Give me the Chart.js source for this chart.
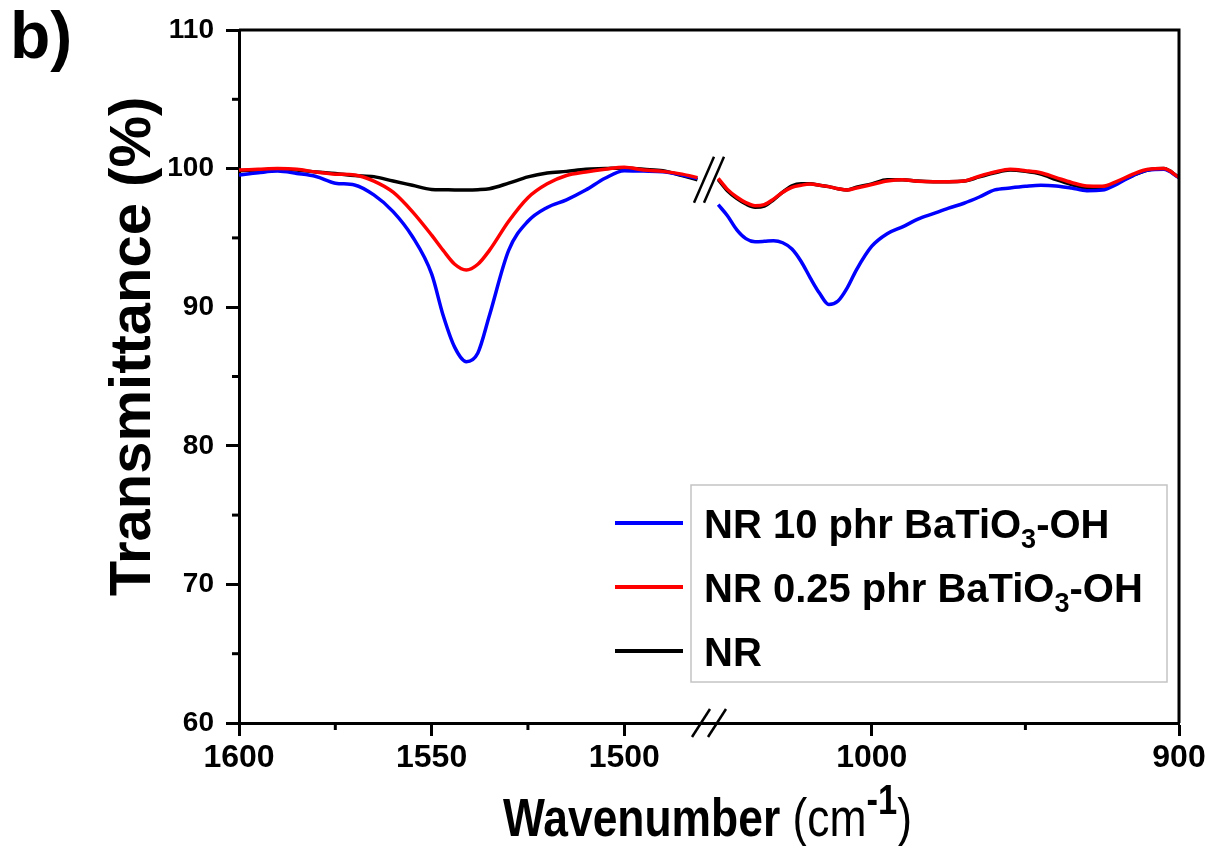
<!DOCTYPE html>
<html>
<head>
<meta charset="utf-8">
<script src="https://cdn.jsdelivr.net/npm/chart.js@4.4.1/dist/chart.umd.min.js"></script>
<style>
  body { margin: 0; background: #fff; }
  #wrap { width: 1211px; height: 846px; }
</style>
</head>
<body>
<div id="wrap"><canvas id="ftir" width="1211" height="846"></canvas></div>
<script>
// 横軸は 1600-1478 と 1053-900 の二区間 (途中で軸を切る)
const xMax = 1600, breakLeft = 1478, breakRight = 1053, xMin = 900;
const xTickValues = [1600, 1550, 1500, 1000, 900];
const xTickLabels = ['1600', '1550', '1500', '1000', '900'];
const xMinorTicks = [1575, 1525, 950];
const yMinorTicks = [65, 75, 85, 95, 105];

const seriesLabels = ['NR 10 phr BaTiO_3-OH', 'NR 0.25 phr BaTiO_3-OH', 'NR'];
const seriesColors = ['#0000ff', '#ff0000', '#000000'];

// 左区間
const wnLeft = [1600, 1595, 1590, 1585, 1580, 1575, 1570, 1565, 1560, 1555, 1550, 1547, 1544, 1541, 1538, 1535, 1530, 1525, 1520, 1515, 1510, 1505, 1500, 1495, 1490, 1485, 1481];
const blueLeft = [99.54, 99.7, 99.82, 99.65, 99.43, 98.95, 98.82, 98.1, 96.9, 95.1, 92.4, 89.4, 87.1, 86.07, 86.7, 89.4, 94.1, 96.2, 97.2, 97.75, 98.45, 99.3, 99.85, 99.82, 99.78, 99.54, 99.3];
const redLeft = [99.9, 99.95, 100.0, 99.95, 99.75, 99.6, 99.54, 99.1, 98.3, 96.9, 95.2, 94.1, 93.1, 92.68, 93.1, 94.1, 96.2, 97.9, 98.9, 99.5, 99.75, 99.95, 100.1, 99.9, 99.8, 99.6, 99.35];
const blackLeft = [99.85, 99.9, 99.95, 99.9, 99.75, 99.65, 99.5, 99.42, 99.1, 98.8, 98.5, 98.48, 98.46, 98.46, 98.48, 98.55, 98.95, 99.4, 99.68, 99.8, 99.95, 100.0, 100.05, 99.95, 99.85, 99.5, 99.2];

// 右区間
const wnRight = [1050, 1047, 1044, 1041, 1038, 1035, 1032, 1029, 1026, 1023, 1020, 1017, 1014, 1011, 1008, 1005, 1000, 995, 990, 985, 980, 975, 970, 965, 960, 955, 950, 945, 940, 935, 930, 925, 920, 915, 910, 905, 900];
const blueRight = [97.4, 96.6, 95.6, 94.95, 94.72, 94.75, 94.8, 94.65, 94.2, 93.3, 92.1, 91.0, 90.2, 90.45, 91.4, 92.7, 94.4, 95.3, 95.8, 96.35, 96.75, 97.15, 97.5, 97.95, 98.46, 98.6, 98.72, 98.8, 98.75, 98.6, 98.41, 98.45, 98.9, 99.5, 99.9, 99.95, 99.35];
const redRight = [99.3, 98.5, 97.95, 97.55, 97.32, 97.4, 97.8, 98.3, 98.65, 98.8, 98.88, 98.8, 98.7, 98.55, 98.46, 98.6, 98.85, 99.1, 99.2, 99.08, 99.06, 99.06, 99.1, 99.45, 99.75, 99.95, 99.85, 99.7, 99.35, 99.0, 98.74, 98.72, 99.1, 99.6, 99.95, 100.0, 99.37];
const blackRight = [99.2, 98.4, 97.85, 97.45, 97.22, 97.3, 97.75, 98.3, 98.75, 98.9, 98.9, 98.8, 98.7, 98.55, 98.46, 98.65, 98.9, 99.2, 99.2, 99.1, 99.06, 99.06, 99.1, 99.4, 99.7, 99.9, 99.8, 99.6, 99.2, 98.85, 98.6, 98.6, 99.0, 99.5, 99.9, 100.0, 99.37];

// 波数 -> 軸座標 (0..1)。左右の区間をそれぞれ幅の半分に割り当てる
function toAxis(w) {
    if (w >= breakLeft) return (xMax - w) / (xMax - breakLeft) * 0.5;
    return 0.5 + (breakRight - w) / (breakRight - xMin) * 0.5;
}

function buildPoints(wl, yl, wr, yr) {
    const pts = wl.map((w, i) => ({ x: toAxis(w), y: yl[i] }));
    pts.push({ x: 0.5, y: null }); // 切れ目
    wr.forEach((w, i) => pts.push({ x: toAxis(w), y: yr[i] }));
    return pts;
}

const font = '"Liberation Sans", Arial, sans-serif';

// 下付き文字 "_3" を扱うテキスト描画
function drawRich(ctx, text, x, y, size) {
    const parts = text.split(/_(\d)/);
    let cx = x;
    parts.forEach((p, i) => {
        if (!p) return;
        if (i % 2 === 1) {
            ctx.font = `bold ${Math.round(size * 0.68)}px ${font}`;
            ctx.fillText(p, cx, y + size * 0.24);
        } else {
            ctx.font = `bold ${size}px ${font}`;
            ctx.fillText(p, cx, y);
        }
        cx += ctx.measureText(p).width;
    });
}

const decorPlugin = {
    id: 'decor',
    afterDraw(chart) {
        const ctx = chart.ctx;
        const area = chart.chartArea;
        const xs = chart.scales.x;
        const ys = chart.scales.y;
        ctx.save();
        ctx.strokeStyle = '#000';
        ctx.fillStyle = '#000';

        // 上と右の枠
        ctx.lineWidth = 3;
        ctx.beginPath();
        ctx.moveTo(area.left, area.top);
        ctx.lineTo(area.right, area.top);
        ctx.lineTo(area.right, area.bottom);
        ctx.stroke();

        // 補助目盛
        xMinorTicks.forEach(w => {
            const px = xs.getPixelForValue(toAxis(w));
            ctx.beginPath();
            ctx.moveTo(px, area.bottom);
            ctx.lineTo(px, area.bottom + 7);
            ctx.stroke();
        });
        yMinorTicks.forEach(v => {
            const py = ys.getPixelForValue(v);
            ctx.beginPath();
            ctx.moveTo(area.left - 7, py);
            ctx.lineTo(area.left, py);
            ctx.stroke();
        });

        // 軸の切れ目 //
        const bx = xs.getPixelForValue(0.5);
        ctx.lineWidth = 2.5;
        [-8, 8].forEach(d => {
            ctx.beginPath();
            ctx.moveTo(bx + d - 9, area.bottom + 14);
            ctx.lineTo(bx + d + 9, area.bottom - 14);
            ctx.stroke();
        });
        const by = ys.getPixelForValue(99.2);
        [-5, 5].forEach(d => {
            ctx.beginPath();
            ctx.moveTo(bx + d - 10, by + 23);
            ctx.lineTo(bx + d + 10, by - 23);
            ctx.stroke();
        });

        // パネル記号
        ctx.font = `bold 66px ${font}`;
        ctx.textAlign = 'left';
        ctx.textBaseline = 'alphabetic';
        ctx.fillText('b)', 10, 58);

        // 縦軸タイトル
        ctx.save();
        ctx.translate(150, (area.top + area.bottom) / 2 - 30);
        ctx.rotate(-Math.PI / 2);
        ctx.textAlign = 'center';
        ctx.font = `bold 58px ${font}`;
        ctx.fillText('Transmittance (%)', 0, 0);
        ctx.restore();

        // 横軸タイトル (横方向に詰めて描く)
        const pieces = [
            { t: 'Wavenumber ', f: `bold 54px ${font}`, dy: 0 },
            { t: '(cm', f: `54px ${font}`, dy: 0 },
            { t: '-1', f: `bold 42px ${font}`, dy: -22 },
            { t: ')', f: `54px ${font}`, dy: 0 }
        ];
        let total = 0;
        pieces.forEach(p => { ctx.font = p.f; p.w = ctx.measureText(p.t).width; total += p.w; });
        ctx.save();
        ctx.translate(503, 836);
        ctx.scale(409 / total, 1);
        let tx = 0;
        pieces.forEach(p => {
            ctx.font = p.f;
            ctx.fillText(p.t, tx, p.dy);
            tx += p.w;
        });
        ctx.restore();

        // 凡例
        ctx.lineWidth = 1.5;
        ctx.strokeStyle = '#c4c4c4';
        ctx.strokeRect(691, 485, 476, 197);
        const rows = [523, 587, 651];
        seriesLabels.forEach((lab, i) => {
            ctx.strokeStyle = seriesColors[i];
            ctx.lineWidth = 4;
            ctx.beginPath();
            ctx.moveTo(615, rows[i]);
            ctx.lineTo(683, rows[i]);
            ctx.stroke();
            ctx.fillStyle = '#000';
            drawRich(ctx, lab, 704, rows[i] + 15, 40);
        });
        ctx.restore();
    }
};

const datasets = [
    { label: seriesLabels[1], data: buildPoints(wnLeft, redLeft, wnRight, redRight), borderColor: seriesColors[1] },
    { label: seriesLabels[0], data: buildPoints(wnLeft, blueLeft, wnRight, blueRight), borderColor: seriesColors[0] },
    { label: seriesLabels[2], data: buildPoints(wnLeft, blackLeft, wnRight, blackRight), borderColor: seriesColors[2] }
].map(d => Object.assign(d, {
    borderWidth: 3.5,
    pointRadius: 0,
    fill: false,
    spanGaps: false,
    cubicInterpolationMode: 'monotone'
}));

new Chart(document.getElementById('ftir'), {
    type: 'line',
    data: { datasets: datasets },
    plugins: [decorPlugin],
    options: {
        responsive: false,
        animation: false,
        layout: { padding: { top: 30, right: 32, bottom: 0, left: 0 } },
        plugins: {
            legend: { display: false },
            tooltip: { enabled: false }
        },
        scales: {
            x: {
                type: 'linear',
                min: 0,
                max: 1,
                afterBuildTicks: s => { s.ticks = xTickValues.map(w => ({ value: toAxis(w) })); },
                afterFit: s => { s.height = 123; },
                border: { display: true, color: '#000', width: 3 },
                grid: { drawOnChartArea: false, drawTicks: true, tickLength: 13, tickWidth: 3, tickColor: '#000' },
                ticks: {
                    autoSkip: false,
                    maxRotation: 0,
                    padding: 3,
                    color: '#000',
                    font: { family: font, size: 32, weight: 'bold' },
                    callback: (v, i) => xTickLabels[i]
                }
            },
            y: {
                min: 60,
                max: 110,
                afterFit: s => { s.width = 239; },
                border: { display: true, color: '#000', width: 3 },
                grid: { drawOnChartArea: false, drawTicks: true, tickLength: 13, tickWidth: 3, tickColor: '#000' },
                ticks: {
                    stepSize: 10,
                    padding: 12,
                    color: '#000',
                    font: { family: font, size: 28, weight: 'bold' }
                }
            }
        }
    }
});
</script>
</body>
</html>
